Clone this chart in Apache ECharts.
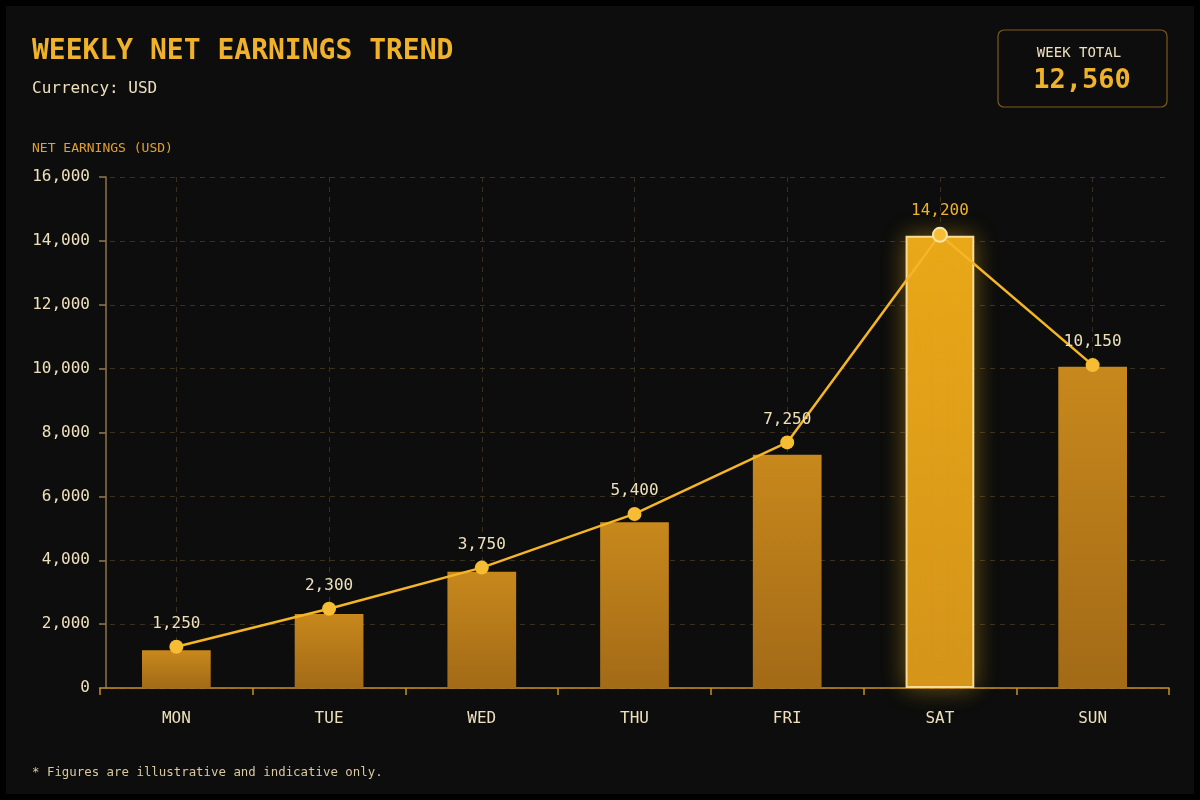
<!DOCTYPE html>
<html>
<head>
<meta charset="utf-8">
<script src="https://cdn.jsdelivr.net/npm/echarts@6/dist/echarts.min.js"></script>
<style>
  html, body { margin: 0; padding: 0; background: #000; }
  #chart {
    width: 1200px;
    height: 800px;
    background: #0c0d0c;
    box-shadow: inset 0 0 0 6px #000;
  }
</style>
</head>
<body>
<div id="chart"></div>
<script>
const days = ['MON', 'TUE', 'WED', 'THU', 'FRI', 'SAT', 'SUN'];
// bar heights
const barValues = [1180, 2320, 3640, 5190, 7300, 14160, 10060];
// line points
const lineValues = [1290, 2480, 3770, 5450, 7690, 14190, 10110];
// numbers printed above the points
const labelValues = [1250, 2300, 3750, 5400, 7250, 14200, 10150];
const yTicks = [0, 2000, 4000, 6000, 8000, 10000, 12000, 14000, 16000];
const weekTotal = 12560;
const peakIndex = 5;

const FONT = '"DejaVu Sans Mono", "Liberation Mono", monospace';
const GOLD = '#f0b22a';
const CREAM = '#eee0bc';

const fmt = v => v.toLocaleString('en-US');

const chart = echarts.init(document.getElementById('chart'), null, { renderer: 'canvas' });

const barNormal = {
  color: new echarts.graphic.LinearGradient(0, 0, 0, 1, [
    { offset: 0, color: '#c7881c' },
    { offset: 1, color: '#a36a17' }
  ])
};
const barPeak = {
  color: new echarts.graphic.LinearGradient(0, 0, 0, 1, [
    { offset: 0, color: '#e9a818' },
    { offset: 1, color: '#d4941a' }
  ]),
  borderColor: '#f7dc98',
  borderWidth: 2,
  shadowBlur: 24,
  shadowColor: 'rgba(255, 185, 40, 0.4)'
};

const option = {
  animation: false,
  textStyle: { fontFamily: FONT },
  title: [
    {
      text: 'WEEKLY NET EARNINGS TREND',
      left: 32,
      top: 38,
      padding: 0,
      textStyle: { color: GOLD, fontSize: 28, fontWeight: 'bold', fontFamily: FONT }
    },
    {
      text: 'Currency: USD',
      left: 32,
      top: 81,
      padding: 0,
      textStyle: { color: CREAM, fontSize: 16, fontWeight: 'normal', fontFamily: FONT }
    },
    {
      text: 'NET EARNINGS (USD)',
      left: 32,
      top: 142,
      padding: 0,
      textStyle: { color: '#e4a02c', fontSize: 13, fontWeight: 'normal', fontFamily: FONT }
    },
    {
      text: '* Figures are illustrative and indicative only.',
      left: 32,
      top: 767,
      padding: 0,
      textStyle: { color: '#d9c89e', fontSize: 12.4, fontWeight: 'normal', fontFamily: FONT }
    }
  ],
  graphic: [
    {
      type: 'rect',
      shape: { x: 998, y: 30, width: 169, height: 77, r: 6 },
      style: { fill: 'transparent', stroke: '#7c5a1c', lineWidth: 1.2 }
    },
    {
      type: 'text',
      x: 1079,
      y: 53,
      style: {
        text: 'WEEK TOTAL',
        fill: CREAM,
        font: '14px ' + FONT,
        align: 'center',
        verticalAlign: 'middle'
      }
    },
    {
      type: 'text',
      x: 1082,
      y: 81,
      style: {
        text: fmt(weekTotal),
        fill: GOLD,
        font: 'bold 27px ' + FONT,
        align: 'center',
        verticalAlign: 'middle'
      }
    }
  ],
  grid: {
    left: 100,
    right: 31,
    top: 177,
    bottom: 112,
    containLabel: false
  },
  xAxis: {
    type: 'category',
    data: days,
    boundaryGap: true,
    axisLine: { lineStyle: { color: '#c8911f', width: 1.5 } },
    axisTick: { show: true, length: 7, lineStyle: { color: '#c8911f', width: 1.5 } },
    axisLabel: { color: CREAM, fontSize: 16, margin: 23, fontFamily: FONT },
    splitLine: {
      show: true,
      alignWithLabel: true,
      lineStyle: { color: '#3a3020', type: [5, 5], width: 1 }
    }
  },
  yAxis: {
    type: 'value',
    min: yTicks[0],
    max: yTicks[yTicks.length - 1],
    interval: yTicks[1] - yTicks[0],
    offset: -6,
    axisLine: { show: true, lineStyle: { color: '#8c7448', width: 1.5 } },
    axisTick: { show: true, length: 7, lineStyle: { color: '#8c7448', width: 1.5 } },
    axisLabel: {
      color: CREAM,
      fontSize: 16,
      margin: 16,
      fontFamily: FONT,
      formatter: v => fmt(v)
    },
    splitLine: { lineStyle: { color: '#3a3020', type: [5, 5], width: 1 } }
  },
  series: [
    {
      type: 'bar',
      barWidth: '45%',
      data: barValues.map((v, i) => ({
        value: v,
        itemStyle: i === peakIndex ? barPeak : barNormal
      })),
      z: 2
    },
    {
      type: 'line',
      data: lineValues.map((v, i) => ({
        value: v,
        itemStyle: i === peakIndex ? { color: '#f6bc33', borderColor: '#f8e3a8', borderWidth: 2 } : undefined,
        label: i === peakIndex ? { color: GOLD } : undefined
      })),
      symbol: 'circle',
      symbolSize: 14,
      showAllSymbol: true,
      lineStyle: { color: '#f4b526', width: 2.5 },
      itemStyle: { color: '#f6bc33' },
      label: {
        show: true,
        position: 'top',
        distance: 8,
        color: CREAM,
        fontSize: 16,
        fontFamily: FONT,
        formatter: p => fmt(labelValues[p.dataIndex])
      },
      z: 5
    }
  ]
};

chart.setOption(option);
</script>
</body>
</html>
